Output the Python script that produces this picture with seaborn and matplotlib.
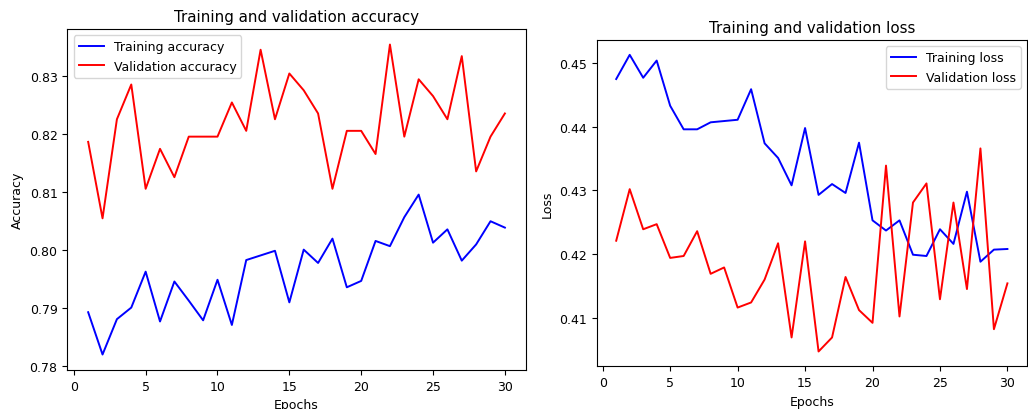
import matplotlib
matplotlib.use("Agg")
import matplotlib.pyplot as plt
import seaborn as sns
import pandas as pd

epochs = list(range(1, 31))
train_acc = [0.7893, 0.7820, 0.7881, 0.7901, 0.7963, 0.7877, 0.7946, 0.7913, 0.7879, 0.7949,
             0.7871, 0.7983, 0.7991, 0.7999, 0.7910, 0.8001, 0.7978, 0.8020, 0.7936, 0.7947,
             0.8016, 0.8007, 0.8057, 0.8096, 0.8013, 0.8036, 0.7982, 0.8010, 0.8050, 0.8039]
val_acc = [0.8187, 0.8055, 0.8226, 0.8286, 0.8106, 0.8175, 0.8126, 0.8196, 0.8196, 0.8196,
           0.8255, 0.8206, 0.8346, 0.8226, 0.8305, 0.8276, 0.8236, 0.8106, 0.8206, 0.8206,
           0.8166, 0.8355, 0.8196, 0.8295, 0.8266, 0.8226, 0.8335, 0.8136, 0.8196, 0.8236]
train_loss = [0.4475, 0.4513, 0.4477, 0.4504, 0.4433, 0.4396, 0.4396, 0.4407, 0.4409, 0.4411,
              0.4459, 0.4374, 0.4351, 0.4308, 0.4398, 0.4293, 0.4310, 0.4296, 0.4375, 0.4253,
              0.4237, 0.4253, 0.4199, 0.4197, 0.4239, 0.4216, 0.4298, 0.4188, 0.4207, 0.4208]
val_loss = [0.4221, 0.4302, 0.4239, 0.4247, 0.4194, 0.4197, 0.4236, 0.4169, 0.4179, 0.4116,
            0.4124, 0.4160, 0.4217, 0.4069, 0.4220, 0.4047, 0.4069, 0.4164, 0.4112, 0.4092,
            0.4339, 0.4102, 0.4281, 0.4311, 0.4129, 0.4281, 0.4145, 0.4366, 0.4082, 0.4154]

fs = 9
tfs = 10.8
lw = 1.4
fig = plt.figure(figsize=(10.28, 4.10), dpi=100)
ax1 = fig.add_axes([0.0655, 0.0951, 0.5114 - 0.0655, 0.9268 - 0.0951])
ax2 = fig.add_axes([0.5804, 0.1041, 0.999 - 0.5804, 0.90 - 0.1041])

sns.lineplot(x=epochs, y=train_acc, ax=ax1, color="b", label="Training accuracy", linewidth=lw)
sns.lineplot(x=epochs, y=val_acc, ax=ax1, color="r", label="Validation accuracy", linewidth=lw)
ax1.set_title("Training and validation accuracy", fontsize=tfs)
ax1.set_xlabel("Epochs", fontsize=fs)
ax1.set_ylabel("Accuracy", fontsize=fs)
ax1.legend(loc="upper left", fontsize=fs)

sns.lineplot(x=epochs, y=train_loss, ax=ax2, color="b", label="Training loss", linewidth=lw)
sns.lineplot(x=epochs, y=val_loss, ax=ax2, color="r", label="Validation loss", linewidth=lw)
ax2.set_title("Training and validation loss", fontsize=tfs)
ax2.set_xlabel("Epochs", fontsize=fs)
ax2.set_ylabel("Loss", fontsize=fs)
ax2.legend(loc="upper right", fontsize=fs)

for ax in (ax1, ax2):
    ax.tick_params(labelsize=fs)
    ax.set_xticks([0, 5, 10, 15, 20, 25, 30])

fig.savefig("out.png", dpi=100)
